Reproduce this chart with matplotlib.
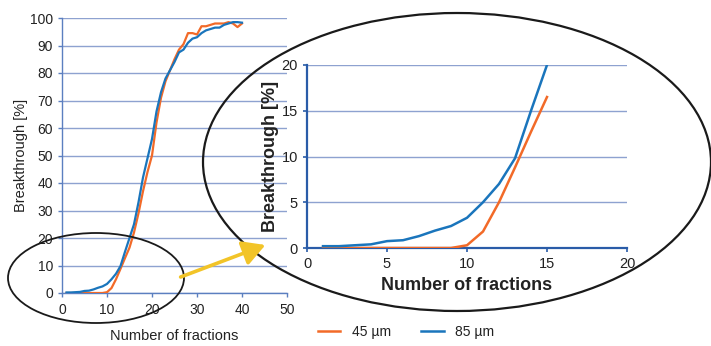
import matplotlib
matplotlib.use("Agg")
import matplotlib.pyplot as plt
from matplotlib.patches import Ellipse, FancyArrowPatch
from matplotlib.lines import Line2D

plt.rcParams['font.family'] = ['Liberation Sans', 'DejaVu Sans']

# fractions 1..40, breakthrough [%]
fractions = list(range(1, 41))
bt_45 = [0, 0, 0, 0, 0, 0, 0, 0, 0, 0.3, 1.8, 5.0, 8.8, 12.7, 16.5,
         22, 29, 37, 44, 50, 62, 71, 77, 81, 85, 88.5, 90.5, 94.5, 94.5, 94,
         97, 97, 97.5, 98, 98, 98, 98.5, 98, 96.7, 98]
bt_85 = [0.2, 0.2, 0.3, 0.4, 0.75, 0.85, 1.3, 1.9, 2.4, 3.3, 5.0, 7.0, 9.8, 15.0, 20.0,
         25, 33, 42, 49, 56, 66, 73, 78, 81, 84, 87.5, 88.5, 91, 92.5, 93,
         94.5, 95.5, 96, 96.5, 96.5, 97.5, 98, 98.5, 98.5, 98.3]
zoom_n = 15  # inset shows fractions 1..15

c45 = '#f26a28'
c85 = '#1a75bc'
grid_c = '#8ea2d0'
spine_c = '#2a5ca8'
txt_c = '#222222'

W, H = 711, 346
fig = plt.figure(figsize=(W / 100, H / 100), dpi=100)

def fx(px):
    return px / W

def fy(py):
    return 1 - py / H

# main chart
ax = fig.add_axes([fx(62), fy(293), fx(287) - fx(62), fy(18) - fy(293)])
ax.plot(fractions, bt_45, color=c45, lw=1.6, zorder=3)
ax.plot(fractions, bt_85, color=c85, lw=1.6, zorder=3)
ax.set_xlim(0, 50)
ax.set_ylim(0, 100)
ax.set_xticks(range(0, 51, 10))
ax.set_yticks(range(0, 101, 10))
ax.yaxis.grid(True, color=grid_c, lw=1.0)
ax.set_axisbelow(True)
for s in ['top', 'right']:
    ax.spines[s].set_visible(False)
for s in ['left', 'bottom']:
    ax.spines[s].set_color('#5b7fc0')
    ax.spines[s].set_linewidth(1.0)
ax.tick_params(colors='#5b7fc0', labelcolor=txt_c, labelsize=10, length=3, width=1)
ax.tick_params(axis='x', pad=4)
ax.set_xlabel('Number of fractions', fontsize=10.5, color=txt_c, labelpad=9)
ax.set_ylabel('Breakthrough [%]', fontsize=10.5, color=txt_c, labelpad=1)
ax.set_facecolor('none')

# zoomed inset
ax2 = fig.add_axes([fx(307), fy(248), fx(627) - fx(307), fy(65) - fy(248)])
ax2.plot(fractions[:zoom_n], bt_45[:zoom_n], color=c45, lw=1.8, zorder=3)
ax2.plot(fractions[:zoom_n], bt_85[:zoom_n], color=c85, lw=1.8, zorder=3)
ax2.set_xlim(0, 20)
ax2.set_ylim(0, 20)
ax2.set_xticks(range(0, 21, 5))
ax2.set_yticks(range(0, 21, 5))
ax2.yaxis.grid(True, color=grid_c, lw=1.0)
ax2.set_axisbelow(True)
for s in ['top', 'right']:
    ax2.spines[s].set_visible(False)
for s in ['left', 'bottom']:
    ax2.spines[s].set_color(spine_c)
    ax2.spines[s].set_linewidth(1.6)
ax2.tick_params(colors=spine_c, labelcolor=txt_c, labelsize=10.5, length=3, width=1.2)
ax2.set_xlabel('Number of fractions', fontsize=13, fontweight='bold', color=txt_c, labelpad=4)
ax2.set_ylabel('Breakthrough [%]', fontsize=13, fontweight='bold', color=txt_c, labelpad=2)
ax2.set_facecolor('none')

# overlay in pixel coordinates for ellipses and arrow
ov = fig.add_axes([0, 0, 1, 1])
ov.set_xlim(0, W)
ov.set_ylim(H, 0)
ov.axis('off')
ov.set_facecolor('none')
ov.add_patch(Ellipse((457, 162), 508, 298, fill=False, ec='#1a1a1a', lw=1.6))
ov.add_patch(Ellipse((96, 278), 176, 90, fill=False, ec='#1a1a1a', lw=1.3))
ov.add_patch(FancyArrowPatch((178, 278), (268, 244), arrowstyle='-|>,head_length=9,head_width=5',
                             color='#f2c428', lw=2.6, mutation_scale=1.5))

# legend
h45 = Line2D([], [], color=c45, lw=1.8)
h85 = Line2D([], [], color=c85, lw=1.8)
fig.legend([h45, h85], ['45 µm', '85 µm'], loc='center', bbox_to_anchor=(fx(406), fy(332)),
           ncol=2, frameon=False, fontsize=10, handlelength=1.6, columnspacing=2.2,
           labelcolor=txt_c)

fig.savefig('out.png', dpi=100)
